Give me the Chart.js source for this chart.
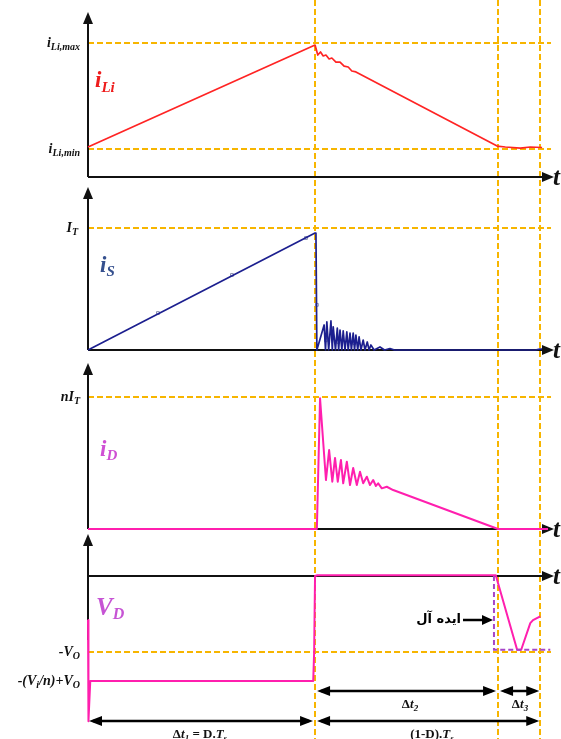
<!DOCTYPE html>
<html lang="fa">
<head>
<meta charset="UTF-8">
<title>Flyback waveforms</title>
<script src="https://cdn.jsdelivr.net/npm/chart.js"></script>
<style>
  body { margin: 0; background: #fff; }
  .wrap { position: relative; width: 561px; height: 739px; }
</style>
</head>
<body>
<div class="wrap"><canvas id="wave"></canvas></div>
<script>
  // switching instants: end of D.Ts, end of dt2, end of dt3
  const tSwitch = [5.0, 9.03, 9.96];
  const tEnd = 10.13;

  // reference levels
  const iLiMin = 0.209, iLiMax = 1.0;
  const IT = 1.0, nIT = 1.0, minusVo = -1.0;

  // input inductor current i_Li
  const iLiT = [0, 5.0, 5.06, 5.12, 5.18, 5.24, 5.31, 5.37, 5.46, 5.55, 5.64, 5.73, 5.81, 5.90, 9.01, 9.19, 9.52, 9.74, 10.0];
  const iLiV = [0.224, 0.985, 0.91, 0.933, 0.903, 0.91, 0.881, 0.888, 0.858, 0.858, 0.828, 0.821, 0.791, 0.784, 0.231, 0.224, 0.216, 0.224, 0.22];

  // switch current i_S
  const iST = [0, 5.0, 5.02, 5.04, 5.20, 5.23, 5.26, 5.30, 5.35, 5.38, 5.40, 5.45, 5.49, 5.52, 5.55, 5.59, 5.62, 5.66, 5.70, 5.73,
               5.77, 5.80, 5.84, 5.87, 5.90, 5.94, 5.97, 6.01, 6.06, 6.10, 6.15, 6.19, 6.23, 6.30, 6.43, 6.53, 6.65, 6.75, 9.85, 9.95, 10.0];
  const iSV = [0, 0.959, 0.955, 0, 0.205, 0, 0.23, 0, 0.238, 0, 0.19, 0, 0.18, 0, 0.164, 0, 0.156, 0, 0.148, 0,
               0.139, 0, 0.139, 0, 0.123, 0, 0.107, 0, 0.082, 0, 0.066, 0, 0.041, 0, 0.025, 0, 0.012, 0, 0, 0.008, 0.008];
  const iSMarkT = [1.54, 3.17, 4.80, 5.04, 5.24, 5.51, 5.86];
  const iSMarkV = [0.303, 0.615, 0.918, 0.37, 0.08, 0.066, 0.057];

  // diode current i_D
  const iDT = [0, 5.04, 5.11, 5.24, 5.31, 5.38, 5.44, 5.50, 5.57, 5.62, 5.70, 5.77, 5.84, 5.92, 5.99, 6.06, 6.14, 6.21, 6.28,
               6.34, 6.39, 6.47, 6.58, 6.72, 9.03, 10.13];
  const iDV = [0, 0, 0.99, 0.371, 0.598, 0.358, 0.538, 0.358, 0.523, 0.346, 0.51, 0.333, 0.462, 0.333, 0.434, 0.346, 0.396, 0.333, 0.371,
               0.326, 0.346, 0.308, 0.32, 0.295, 0, 0];

  // diode voltage V_D (simulated and ideal)
  const vDT = [0, 0.01, 0.05, 4.96, 4.98, 5.0, 5.05, 8.98, 9.45, 9.54, 9.74, 9.80, 9.96];
  const vDV = [-0.58, -1.91, -1.38, -1.38, -1.0, 0.0, 0.01, 0.01, -0.97, -0.97, -0.62, -0.58, -0.53];
  const vDIdealT = [8.94, 8.94, 10.18];
  const vDIdealV = [0, -0.97, -0.97];

  const H = 739;
  // each trace gets its own vertical band: zero line pixel and pixels per unit
  function band(zero, unit) {
    return { min: (zero - H) / unit, max: zero / unit, display: false };
  }
  const pts = (t, v) => t.map((x, i) => ({ x: x, y: v[i] }));

  const GOLD = '#f7b500';
  const SERIF = '"Liberation Serif", "Times New Roman", serif';

  function rich(ctx, runs, x, y, align, color) {
    let w = 0;
    runs.forEach(r => {
      ctx.font = (r[3] === false ? 'bold ' : 'bold italic ') + r[1] + 'px ' + SERIF;
      w += ctx.measureText(r[0]).width;
    });
    let cx = align === 'right' ? x - w : align === 'center' ? x - w / 2 : x;
    ctx.fillStyle = color;
    ctx.textAlign = 'left';
    ctx.textBaseline = 'alphabetic';
    runs.forEach(r => {
      ctx.font = (r[3] === false ? 'bold ' : 'bold italic ') + r[1] + 'px ' + SERIF;
      ctx.fillText(r[0], cx, y + r[2]);
      cx += ctx.measureText(r[0]).width;
    });
  }

  function head(ctx, x, y, ang, len = 12, half = 5) {
    ctx.save();
    ctx.translate(x, y);
    ctx.rotate(ang);
    ctx.beginPath();
    ctx.moveTo(0, 0);
    ctx.lineTo(-len, -half);
    ctx.lineTo(-len, half);
    ctx.closePath();
    ctx.fill();
    ctx.restore();
  }

  function dimArrow(ctx, x1, x2, y) {
    ctx.beginPath();
    ctx.moveTo(x1 + 4, y);
    ctx.lineTo(x2 - 4, y);
    ctx.stroke();
    head(ctx, x1, y, Math.PI, 13, 5);
    head(ctx, x2, y, 0, 13, 5);
  }

  const decor = {
    id: 'decor',
    beforeDatasetsDraw(chart) {
      const ctx = chart.ctx;
      const xs = chart.scales.x;
      const left = xs.getPixelForValue(0);
      ctx.save();

      // dashed guides
      ctx.strokeStyle = GOLD;
      ctx.lineWidth = 2;
      ctx.setLineDash([6, 3]);
      [[chart.scales.y1, iLiMax], [chart.scales.y1, iLiMin], [chart.scales.y2, IT],
       [chart.scales.y3, nIT], [chart.scales.y4, minusVo]].forEach(([s, v]) => {
        const y = Math.round(s.getPixelForValue(v));
        ctx.beginPath();
        ctx.moveTo(left, y);
        ctx.lineTo(551, y);
        ctx.stroke();
      });
      tSwitch.forEach(t => {
        const x = Math.round(xs.getPixelForValue(t));
        ctx.beginPath();
        ctx.moveTo(x, 0);
        ctx.lineTo(x, H);
        ctx.stroke();
      });
      ctx.setLineDash([]);

      // axes with arrow heads
      ctx.strokeStyle = '#111';
      ctx.fillStyle = '#111';
      ctx.lineWidth = 2;
      const axes = [[chart.scales.y1, 12, null], [chart.scales.y2, 187, null],
                    [chart.scales.y3, 363, null], [chart.scales.y4, 534, 640]];
      axes.forEach(([s, top, bottom]) => {
        const y0 = Math.round(s.getPixelForValue(0));
        ctx.beginPath();
        ctx.moveTo(left, bottom || y0);
        ctx.lineTo(left, top + 8);
        ctx.moveTo(left, y0);
        ctx.lineTo(545, y0);
        ctx.stroke();
        head(ctx, left, top, -Math.PI / 2, 12, 5);
        head(ctx, 554, y0, 0, 12, 5);
        ctx.font = 'bold italic 25px ' + SERIF;
        ctx.textAlign = 'left';
        ctx.textBaseline = 'alphabetic';
        ctx.fillText('t', 553, y0 + 8);
      });
      ctx.restore();
    },
    afterDatasetsDraw(chart) {
      const ctx = chart.ctx;
      const xs = chart.scales.x;
      const px = t => xs.getPixelForValue(t);
      ctx.save();

      // level labels
      const K = '#111';
      rich(ctx, [['i', 14, 0], ['Li,max', 10, 3]], 80, 47, 'right', K);
      rich(ctx, [['i', 14, 0], ['Li,min', 10, 3]], 80, 153, 'right', K);
      rich(ctx, [['I', 14, 0], ['T', 10, 3]], 78, 232, 'right', K);
      rich(ctx, [['nI', 14, 0], ['T', 10, 3]], 80, 401, 'right', K);
      rich(ctx, [['-V', 14, 0], ['O', 10, 3]], 80, 656, 'right', K);
      rich(ctx, [['-(V', 14, 0], ['i', 10, 3], ['/n)+V', 14, 0], ['O', 10, 3]], 80, 685, 'right', K);

      // trace names
      rich(ctx, [['i', 23, 0], ['Li', 15, 5]], 95, 87, 'left', '#ee1c1c');
      rich(ctx, [['i', 23, 0], ['S', 15, 4]], 100, 272, 'left', '#35508e');
      rich(ctx, [['i', 23, 0], ['D', 15, 4]], 100, 456, 'left', '#cf4fd4');
      rich(ctx, [['V', 25, 0], ['D', 16, 4]], 96, 615, 'left', '#c654d4');

      // interval arrows
      ctx.strokeStyle = '#000';
      ctx.fillStyle = '#000';
      ctx.lineWidth = 2.5;
      dimArrow(ctx, px(0) + 1, px(tSwitch[0]) - 2, 721);
      dimArrow(ctx, px(tSwitch[0]) + 2, px(tSwitch[2]) - 1, 721);
      dimArrow(ctx, px(tSwitch[0]) + 2, px(tSwitch[1]) - 2, 691);
      dimArrow(ctx, px(tSwitch[1]) + 2, px(tSwitch[2]) - 1, 691);

      rich(ctx, [['Δ', 13, 0, false], ['t', 13, 0], ['2', 9, 3]], 410, 708, 'center', K);
      rich(ctx, [['Δ', 13, 0, false], ['t', 13, 0], ['3', 9, 3]], 520, 708, 'center', K);
      rich(ctx, [['Δ', 13, 0, false], ['t', 13, 0], ['1', 9, 3], [' = D.', 13, 0, false], ['T', 13, 0], ['s', 9, 3]], 200, 738, 'center', K);
      rich(ctx, [['(1-D).', 13, 0, false], ['T', 13, 0], ['s', 9, 3]], 432, 738, 'center', K);

      // ideal waveform callout
      ctx.font = 'bold 13px "DejaVu Sans", sans-serif';
      ctx.fillStyle = '#000';
      ctx.textAlign = 'right';
      ctx.textBaseline = 'middle';
      ctx.fillText('ایده آل', 461, 620);
      ctx.lineWidth = 2.5;
      ctx.beginPath();
      ctx.moveTo(463, 620);
      ctx.lineTo(484, 620);
      ctx.stroke();
      head(ctx, 493, 620, 0, 11, 5);
      ctx.restore();
    }
  };

  const line = (data, color, width, axis, extra) => Object.assign({
    data: data, borderColor: color, borderWidth: width, yAxisID: axis,
    borderJoinStyle: 'round', pointRadius: 0, tension: 0, fill: false, clip: false
  }, extra || {});

  new Chart(document.getElementById('wave'), {
    type: 'line',
    data: {
      datasets: [
        line(pts(iLiT, iLiV), '#ff2424', 1.7, 'y1'),
        line(pts(iST, iSV), '#1c1f8f', 1.7, 'y2'),
        line(pts(iSMarkT, iSMarkV), '#1c1f8f', 0, 'y2', {
          showLine: false, pointRadius: 2, pointStyle: 'rect',
          pointBackgroundColor: '#ffffff', pointBorderColor: '#8a8fb0', pointBorderWidth: 1
        }),
        line(pts(iDT, iDV), '#ff1fae', 2, 'y3'),
        line(pts(vDIdealT, vDIdealV), '#a646c8', 2, 'y4', { borderDash: [5, 3], borderJoinStyle: 'miter' }),
        line(pts(vDT, vDV), '#ff1fae', 2, 'y4')
      ]
    },
    options: {
      responsive: true,
      maintainAspectRatio: false,
      animation: false,
      events: [],
      layout: { autoPadding: false, padding: { left: 88, right: 13, top: 0, bottom: 0 } },
      plugins: { legend: { display: false }, tooltip: { enabled: false } },
      scales: {
        x: { type: 'linear', min: 0, max: tEnd, display: false },
        y1: band(177, 134),
        y2: band(350, 122),
        y3: band(529, 132),
        y4: band(576, 76)
      }
    },
    plugins: [decor]
  });
</script>
</body>
</html>
